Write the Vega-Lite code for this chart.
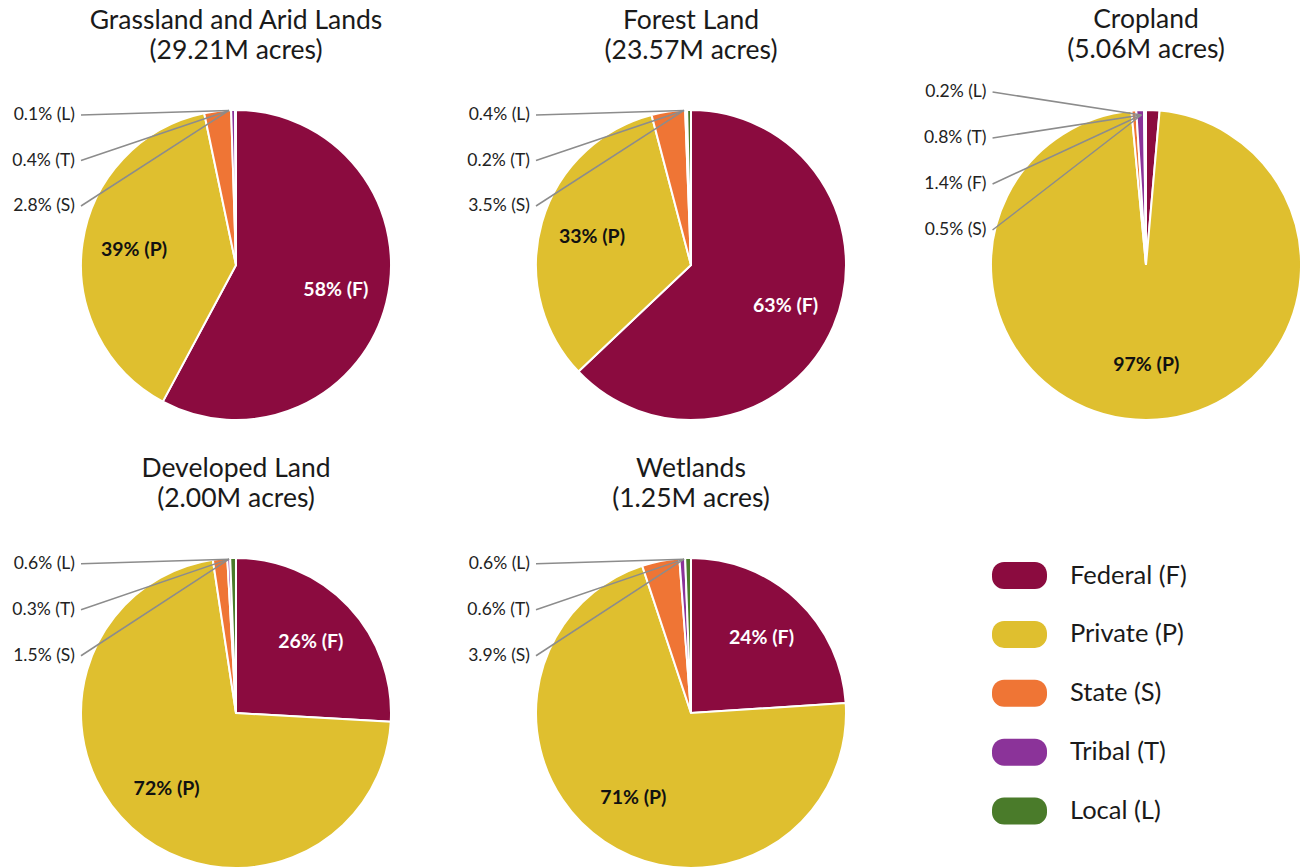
{
  "$schema": "https://vega.github.io/schema/vega-lite/v6.json",
  "padding": {"left": 12, "top": 6, "right": 0, "bottom": 0},
  "background": "white",
  "datasets": {
    "pies": [
      {"pie": "Grassland", "owner": "Federal (F)", "code": "F", "ord": 1, "pct": 58, "label": "58% (F)"},
      {"pie": "Grassland", "owner": "Private (P)", "code": "P", "ord": 2, "pct": 39, "label": "39% (P)"},
      {"pie": "Grassland", "owner": "State (S)", "code": "S", "ord": 3, "pct": 2.8, "label": "2.8% (S)"},
      {"pie": "Grassland", "owner": "Tribal (T)", "code": "T", "ord": 4, "pct": 0.4, "label": "0.4% (T)"},
      {"pie": "Grassland", "owner": "Local (L)", "code": "L", "ord": 5, "pct": 0.1, "label": "0.1% (L)"},
      {"pie": "Forest", "owner": "Federal (F)", "code": "F", "ord": 1, "pct": 63, "label": "63% (F)"},
      {"pie": "Forest", "owner": "Private (P)", "code": "P", "ord": 2, "pct": 33, "label": "33% (P)"},
      {"pie": "Forest", "owner": "State (S)", "code": "S", "ord": 3, "pct": 3.5, "label": "3.5% (S)"},
      {"pie": "Forest", "owner": "Tribal (T)", "code": "T", "ord": 4, "pct": 0.2, "label": "0.2% (T)"},
      {"pie": "Forest", "owner": "Local (L)", "code": "L", "ord": 5, "pct": 0.4, "label": "0.4% (L)"},
      {"pie": "Cropland", "owner": "Federal (F)", "code": "F", "ord": 1, "pct": 1.4, "label": "1.4% (F)"},
      {"pie": "Cropland", "owner": "Private (P)", "code": "P", "ord": 2, "pct": 97, "label": "97% (P)"},
      {"pie": "Cropland", "owner": "State (S)", "code": "S", "ord": 3, "pct": 0.5, "label": "0.5% (S)"},
      {"pie": "Cropland", "owner": "Tribal (T)", "code": "T", "ord": 4, "pct": 0.8, "label": "0.8% (T)"},
      {"pie": "Cropland", "owner": "Local (L)", "code": "L", "ord": 5, "pct": 0.2, "label": "0.2% (L)"},
      {"pie": "Developed", "owner": "Federal (F)", "code": "F", "ord": 1, "pct": 26, "label": "26% (F)"},
      {"pie": "Developed", "owner": "Private (P)", "code": "P", "ord": 2, "pct": 72, "label": "72% (P)"},
      {"pie": "Developed", "owner": "State (S)", "code": "S", "ord": 3, "pct": 1.5, "label": "1.5% (S)"},
      {"pie": "Developed", "owner": "Tribal (T)", "code": "T", "ord": 4, "pct": 0.3, "label": "0.3% (T)"},
      {"pie": "Developed", "owner": "Local (L)", "code": "L", "ord": 5, "pct": 0.6, "label": "0.6% (L)"},
      {"pie": "Wetlands", "owner": "Federal (F)", "code": "F", "ord": 1, "pct": 24, "label": "24% (F)"},
      {"pie": "Wetlands", "owner": "Private (P)", "code": "P", "ord": 2, "pct": 71, "label": "71% (P)"},
      {"pie": "Wetlands", "owner": "State (S)", "code": "S", "ord": 3, "pct": 3.9, "label": "3.9% (S)"},
      {"pie": "Wetlands", "owner": "Tribal (T)", "code": "T", "ord": 4, "pct": 0.6, "label": "0.6% (T)"},
      {"pie": "Wetlands", "owner": "Local (L)", "code": "L", "ord": 5, "pct": 0.6, "label": "0.6% (L)"}
    ]
  },
  "config": {
    "view": {"stroke": null},
    "font": "Lato",
    "title": {"font": "Lato", "fontSize": 26.5, "fontWeight": "normal", "lineHeight": 30, "color": "#1a1a1a", "anchor": "middle", "baseline": "bottom", "offset": 36, "frame": "group"},
    "legend": {"symbolType": "M -0.56,-0.49 L 0.56,-0.49 A 0.44 0.44 0 0 1 1,-0.05 L 1,0.05 A 0.44 0.44 0 0 1 0.56,0.49 L -0.56,0.49 A 0.44 0.44 0 0 1 -1,0.05 L -1,-0.05 A 0.44 0.44 0 0 1 -0.56,-0.49 Z", "symbolSize": 3025, "symbolStrokeWidth": 0, "symbolOpacity": 1, "labelFont": "Lato", "labelFontSize": 25.5, "labelColor": "#1a1a1a", "labelOffset": 23, "rowPadding": 17.9, "padding": 0, "labelLimit": 300}
  },
  "columns": 3,
  "spacing": {"row": 118, "column": 125},
  "bounds": "flush",
  "concat": [
    {
      "width": 330, "height": 330,
      "title": {"text": ["Grassland and Arid Lands", "(29.21M acres)"]},
      "data": {"name": "pies"},
      "transform": [{"filter": "datum.pie === 'Grassland'"}],
      "layer": [
        {"mark": {"type": "arc", "outerRadius": 155, "stroke": "white", "strokeWidth": 2},
         "encoding": {"theta": {"field": "pct", "type": "quantitative", "stack": true}, "order": {"field": "ord", "type": "quantitative"},
           "color": {"field": "owner", "type": "nominal", "scale": {"domain": ["Federal (F)", "Private (P)", "State (S)", "Tribal (T)", "Local (L)"], "range": ["#8B0B3F", "#DFBF2F", "#EF7535", "#8B3399", "#4A7B2A"]}, "legend": {"orient": "none", "legendX": 921, "legendY": 448, "title": null}}}},
        {"mark": {"type": "text", "radius": 103, "font": "Lato", "fontWeight": "bold", "fontSize": 19.5},
         "encoding": {"theta": {"field": "pct", "type": "quantitative", "stack": true}, "order": {"field": "ord", "type": "quantitative"},
           "text": {"condition": {"test": "datum.pct >= 10", "field": "label"}, "value": ""},
           "fill": {"condition": {"test": "datum.code === 'F'", "value": "white"}, "value": "#111111"}}},
        {"transform": [{"filter": "datum.pct < 10"}],
         "mark": {"type": "rule", "color": "#8c8c8c", "strokeWidth": 1.5},
         "encoding": {"x": {"datum": -1.0, "type": "quantitative", "scale": {"domain": [-1.0645, 1.0645], "nice": false, "zero": false}, "axis": null},
           "x2": {"datum": -0.045},
           "y": {"field": "code", "type": "nominal", "bandPosition": 0.5, "scale": {"type": "band", "domain": ["L", "T", "S"], "range": [-7.75, 128.75], "paddingInner": 0, "paddingOuter": 0}, "axis": null},
           "y2": {"datum": "L", "bandPosition": 0.4}}},
        {"transform": [{"filter": "datum.pct < 10"}],
         "mark": {"type": "text", "align": "right", "dx": -6, "font": "Lato", "fontSize": 17.5, "color": "#222222"},
         "encoding": {"x": {"datum": -1.0, "type": "quantitative"}, "y": {"field": "code", "type": "nominal", "bandPosition": 0.5}, "text": {"field": "label"}}}
      ]
    },
    {
      "width": 330, "height": 330,
      "title": {"text": ["Forest Land", "(23.57M acres)"]},
      "data": {"name": "pies"},
      "transform": [{"filter": "datum.pie === 'Forest'"}],
      "layer": [
        {"mark": {"type": "arc", "outerRadius": 155, "stroke": "white", "strokeWidth": 2},
         "encoding": {"theta": {"field": "pct", "type": "quantitative", "stack": true}, "order": {"field": "ord", "type": "quantitative"},
           "color": {"field": "owner", "type": "nominal", "scale": {"domain": ["Federal (F)", "Private (P)", "State (S)", "Tribal (T)", "Local (L)"], "range": ["#8B0B3F", "#DFBF2F", "#EF7535", "#8B3399", "#4A7B2A"]}, "legend": {"orient": "none", "legendX": 921, "legendY": 448, "title": null}}}},
        {"mark": {"type": "text", "radius": 103, "font": "Lato", "fontWeight": "bold", "fontSize": 19.5},
         "encoding": {"theta": {"field": "pct", "type": "quantitative", "stack": true}, "order": {"field": "ord", "type": "quantitative"},
           "text": {"condition": {"test": "datum.pct >= 10", "field": "label"}, "value": ""},
           "fill": {"condition": {"test": "datum.code === 'F'", "value": "white"}, "value": "#111111"}}},
        {"transform": [{"filter": "datum.pct < 10"}],
         "mark": {"type": "rule", "color": "#8c8c8c", "strokeWidth": 1.5},
         "encoding": {"x": {"datum": -1.0, "type": "quantitative", "scale": {"domain": [-1.0645, 1.0645], "nice": false, "zero": false}, "axis": null},
           "x2": {"datum": -0.045},
           "y": {"field": "code", "type": "nominal", "bandPosition": 0.5, "scale": {"type": "band", "domain": ["L", "T", "S"], "range": [-7.75, 128.75], "paddingInner": 0, "paddingOuter": 0}, "axis": null},
           "y2": {"datum": "L", "bandPosition": 0.4}}},
        {"transform": [{"filter": "datum.pct < 10"}],
         "mark": {"type": "text", "align": "right", "dx": -6, "font": "Lato", "fontSize": 17.5, "color": "#222222"},
         "encoding": {"x": {"datum": -1.0, "type": "quantitative"}, "y": {"field": "code", "type": "nominal", "bandPosition": 0.5}, "text": {"field": "label"}}}
      ]
    },
    {
      "width": 330, "height": 330,
      "title": {"text": ["Cropland", "(5.06M acres)"], "offset": 20},
      "data": {"name": "pies"},
      "transform": [{"filter": "datum.pie === 'Cropland'"}],
      "layer": [
        {"mark": {"type": "arc", "outerRadius": 155, "stroke": "white", "strokeWidth": 2},
         "encoding": {"theta": {"field": "pct", "type": "quantitative", "stack": true}, "order": {"field": "ord", "type": "quantitative"},
           "color": {"field": "owner", "type": "nominal", "scale": {"domain": ["Federal (F)", "Private (P)", "State (S)", "Tribal (T)", "Local (L)"], "range": ["#8B0B3F", "#DFBF2F", "#EF7535", "#8B3399", "#4A7B2A"]}, "legend": {"orient": "none", "legendX": 921, "legendY": 448, "title": null}}}},
        {"mark": {"type": "text", "radius": 100, "font": "Lato", "fontWeight": "bold", "fontSize": 19.5},
         "encoding": {"theta": {"field": "pct", "type": "quantitative", "stack": true}, "order": {"field": "ord", "type": "quantitative"},
           "text": {"condition": {"test": "datum.pct >= 10", "field": "label"}, "value": ""},
           "fill": {"condition": {"test": "datum.code === 'F'", "value": "white"}, "value": "#111111"}}},
        {"transform": [{"filter": "datum.pct < 10"}],
         "mark": {"type": "rule", "color": "#8c8c8c", "strokeWidth": 1.5},
         "encoding": {"x": {"datum": -0.99, "type": "quantitative", "scale": {"domain": [-1.0645, 1.0645], "nice": false, "zero": false}, "axis": null},
           "x2": {"datum": -0.03},
           "y": {"field": "code", "type": "nominal", "bandPosition": 0.5, "scale": {"type": "band", "domain": ["L", "T", "F", "S"], "range": [-31, 153], "paddingInner": 0, "paddingOuter": 0}, "axis": null},
           "y2": {"datum": "T", "bandPosition": 0}}},
        {"transform": [{"filter": "datum.pct < 10"}],
         "mark": {"type": "text", "align": "right", "dx": -6, "font": "Lato", "fontSize": 17.5, "color": "#222222"},
         "encoding": {"x": {"datum": -0.99, "type": "quantitative"}, "y": {"field": "code", "type": "nominal", "bandPosition": 0.5}, "text": {"field": "label"}}}
      ]
    },
    {
      "width": 330, "height": 330,
      "title": {"text": ["Developed Land", "(2.00M acres)"]},
      "data": {"name": "pies"},
      "transform": [{"filter": "datum.pie === 'Developed'"}],
      "layer": [
        {"mark": {"type": "arc", "outerRadius": 155, "stroke": "white", "strokeWidth": 2},
         "encoding": {"theta": {"field": "pct", "type": "quantitative", "stack": true}, "order": {"field": "ord", "type": "quantitative"},
           "color": {"field": "owner", "type": "nominal", "scale": {"domain": ["Federal (F)", "Private (P)", "State (S)", "Tribal (T)", "Local (L)"], "range": ["#8B0B3F", "#DFBF2F", "#EF7535", "#8B3399", "#4A7B2A"]}, "legend": {"orient": "none", "legendX": 921, "legendY": 448, "title": null}}}},
        {"mark": {"type": "text", "radius": 103, "font": "Lato", "fontWeight": "bold", "fontSize": 19.5},
         "encoding": {"theta": {"field": "pct", "type": "quantitative", "stack": true}, "order": {"field": "ord", "type": "quantitative"},
           "text": {"condition": {"test": "datum.pct >= 10", "field": "label"}, "value": ""},
           "fill": {"condition": {"test": "datum.code === 'F'", "value": "white"}, "value": "#111111"}}},
        {"transform": [{"filter": "datum.pct < 10"}],
         "mark": {"type": "rule", "color": "#8c8c8c", "strokeWidth": 1.5},
         "encoding": {"x": {"datum": -1.0, "type": "quantitative", "scale": {"domain": [-1.0645, 1.0645], "nice": false, "zero": false}, "axis": null},
           "x2": {"datum": -0.045},
           "y": {"field": "code", "type": "nominal", "bandPosition": 0.5, "scale": {"type": "band", "domain": ["L", "T", "S"], "range": [-7.25, 130.75], "paddingInner": 0, "paddingOuter": 0}, "axis": null},
           "y2": {"datum": "L", "bandPosition": 0.4}}},
        {"transform": [{"filter": "datum.pct < 10"}],
         "mark": {"type": "text", "align": "right", "dx": -6, "font": "Lato", "fontSize": 17.5, "color": "#222222"},
         "encoding": {"x": {"datum": -1.0, "type": "quantitative"}, "y": {"field": "code", "type": "nominal", "bandPosition": 0.5}, "text": {"field": "label"}}}
      ]
    },
    {
      "width": 330, "height": 330,
      "title": {"text": ["Wetlands", "(1.25M acres)"]},
      "data": {"name": "pies"},
      "transform": [{"filter": "datum.pie === 'Wetlands'"}],
      "layer": [
        {"mark": {"type": "arc", "outerRadius": 155, "stroke": "white", "strokeWidth": 2},
         "encoding": {"theta": {"field": "pct", "type": "quantitative", "stack": true}, "order": {"field": "ord", "type": "quantitative"},
           "color": {"field": "owner", "type": "nominal", "scale": {"domain": ["Federal (F)", "Private (P)", "State (S)", "Tribal (T)", "Local (L)"], "range": ["#8B0B3F", "#DFBF2F", "#EF7535", "#8B3399", "#4A7B2A"]}, "legend": {"orient": "none", "legendX": 921, "legendY": 448, "title": null}}}},
        {"mark": {"type": "text", "radius": 103, "font": "Lato", "fontWeight": "bold", "fontSize": 19.5},
         "encoding": {"theta": {"field": "pct", "type": "quantitative", "stack": true}, "order": {"field": "ord", "type": "quantitative"},
           "text": {"condition": {"test": "datum.pct >= 10", "field": "label"}, "value": ""},
           "fill": {"condition": {"test": "datum.code === 'F'", "value": "white"}, "value": "#111111"}}},
        {"transform": [{"filter": "datum.pct < 10"}],
         "mark": {"type": "rule", "color": "#8c8c8c", "strokeWidth": 1.5},
         "encoding": {"x": {"datum": -1.0, "type": "quantitative", "scale": {"domain": [-1.0645, 1.0645], "nice": false, "zero": false}, "axis": null},
           "x2": {"datum": -0.045},
           "y": {"field": "code", "type": "nominal", "bandPosition": 0.5, "scale": {"type": "band", "domain": ["L", "T", "S"], "range": [-7.25, 130.75], "paddingInner": 0, "paddingOuter": 0}, "axis": null},
           "y2": {"datum": "L", "bandPosition": 0.4}}},
        {"transform": [{"filter": "datum.pct < 10"}],
         "mark": {"type": "text", "align": "right", "dx": -6, "font": "Lato", "fontSize": 17.5, "color": "#222222"},
         "encoding": {"x": {"datum": -1.0, "type": "quantitative"}, "y": {"field": "code", "type": "nominal", "bandPosition": 0.5}, "text": {"field": "label"}}}
      ]
    }
  ]
}
